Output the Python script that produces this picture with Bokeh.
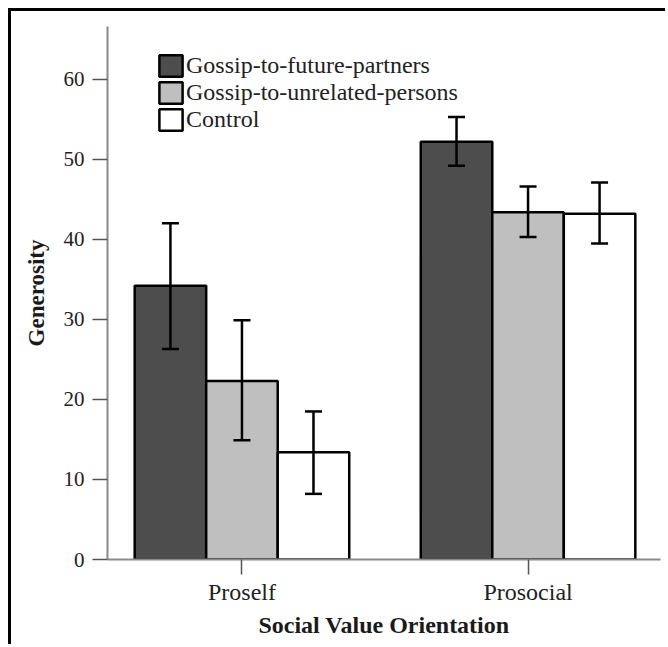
from bokeh.plotting import figure
from bokeh.models import ColumnDataSource, Whisker, TeeHead, FixedTicker, Range1d
from bokeh.transform import dodge
from bokeh.embed import file_html
from bokeh.resources import INLINE

groups = ["Proself", "Prosocial"]
group_pos = [1, 2]
conditions = ["Gossip-to-future-partners", "Gossip-to-unrelated-persons", "Control"]

future_means = [34.2, 52.2]
future_lower = [26.3, 49.2]
future_upper = [42.0, 55.3]

unrelated_means = [22.3, 43.4]
unrelated_lower = [14.9, 40.3]
unrelated_upper = [29.9, 46.6]

control_means = [13.4, 43.2]
control_lower = [8.2, 39.5]
control_upper = [18.5, 47.1]

y_ticks = [0, 10, 20, 30, 40, 50, 60]

colors = ["#4d4d4d", "#bfbfbf", "#ffffff"]
offsets = [-0.25, 0.0, 0.25]
bar_w = 0.25

FONT = "Liberation Serif"

p = figure(width=657, height=636, output_backend="svg", toolbar_location=None,
           x_range=Range1d(0.530, 2.463), y_range=Range1d(0, 66.6),
           min_border_left=96, min_border_right=8, min_border_top=15, min_border_bottom=88)
p.margin = (8, 0, 0, 8)
p.styles = {"border-top": "3px solid black", "border-left": "3px solid black"}

series = [
    (future_means, future_lower, future_upper),
    (unrelated_means, unrelated_lower, unrelated_upper),
    (control_means, control_lower, control_upper),
]

for (m, lo, up), cond, col, off in zip(series, conditions, colors, offsets):
    src = ColumnDataSource(dict(x=group_pos, top=m, lower=lo, upper=up))
    p.vbar(x=dodge("x", off), top="top", bottom=0, width=bar_w, source=src,
           fill_color=col, line_color="black", line_width=2.5, legend_label=cond)
    w = Whisker(base=dodge("x", off), lower="lower", upper="upper", source=src,
                line_color="black", line_width=2.5, level="overlay",
                upper_head=TeeHead(size=17, line_width=2.5, line_color="black"),
                lower_head=TeeHead(size=17, line_width=2.5, line_color="black"))
    p.add_layout(w)

p.xgrid.visible = False
p.ygrid.visible = False
p.outline_line_color = None

# y axis
p.yaxis.ticker = FixedTicker(ticks=y_ticks)
p.yaxis.minor_tick_line_color = None
p.yaxis.major_tick_in = 0
p.yaxis.major_tick_out = 15
p.yaxis.axis_line_color = "#8a8a8a"
p.yaxis.axis_line_width = 2
p.yaxis.major_tick_line_color = "#555555"
p.yaxis.major_tick_line_width = 1.5
p.yaxis.major_label_text_font = FONT
p.yaxis.major_label_text_font_size = "21px"
p.yaxis.major_label_text_color = "#222222"
p.yaxis.major_label_standoff = 8
p.yaxis.axis_label = "Generosity"
p.yaxis.axis_label_text_font = FONT
p.yaxis.axis_label_text_font_style = "bold"
p.yaxis.axis_label_text_font_size = "23px"
p.yaxis.axis_label_text_color = "#1a1a1a"
p.yaxis.axis_label_standoff = 12

# x axis
p.xaxis.ticker = FixedTicker(ticks=group_pos)
p.xaxis.major_label_overrides = {gp: g for gp, g in zip(group_pos, groups)}
p.xaxis.minor_tick_line_color = None
p.xaxis.major_tick_in = 0
p.xaxis.major_tick_out = 15
p.xaxis.axis_line_color = "#8a8a8a"
p.xaxis.axis_line_width = 2
p.xaxis.major_tick_line_color = "#555555"
p.xaxis.major_tick_line_width = 1.5
p.xaxis.major_label_text_font = FONT
p.xaxis.major_label_text_font_size = "24px"
p.xaxis.major_label_text_color = "#222222"
p.xaxis.major_label_standoff = 4
p.xaxis.axis_label = "Social Value Orientation"
p.xaxis.axis_label_text_font = FONT
p.xaxis.axis_label_text_font_style = "bold"
p.xaxis.axis_label_text_font_size = "24px"
p.xaxis.axis_label_text_color = "#1a1a1a"
p.xaxis.axis_label_standoff = 4

# legend
lg = p.legend[0]
lg.location = (49, 426)
lg.border_line_color = None
lg.background_fill_alpha = 0
lg.padding = 0
lg.margin = 0
lg.spacing = 0
lg.glyph_width = 29
lg.glyph_height = 27
lg.label_height = 27
lg.label_standoff = 1
lg.label_text_font = FONT
lg.label_text_font_size = "24px"
lg.label_text_color = "#222222"

open("out.html", "w").write(file_html(p, INLINE))
